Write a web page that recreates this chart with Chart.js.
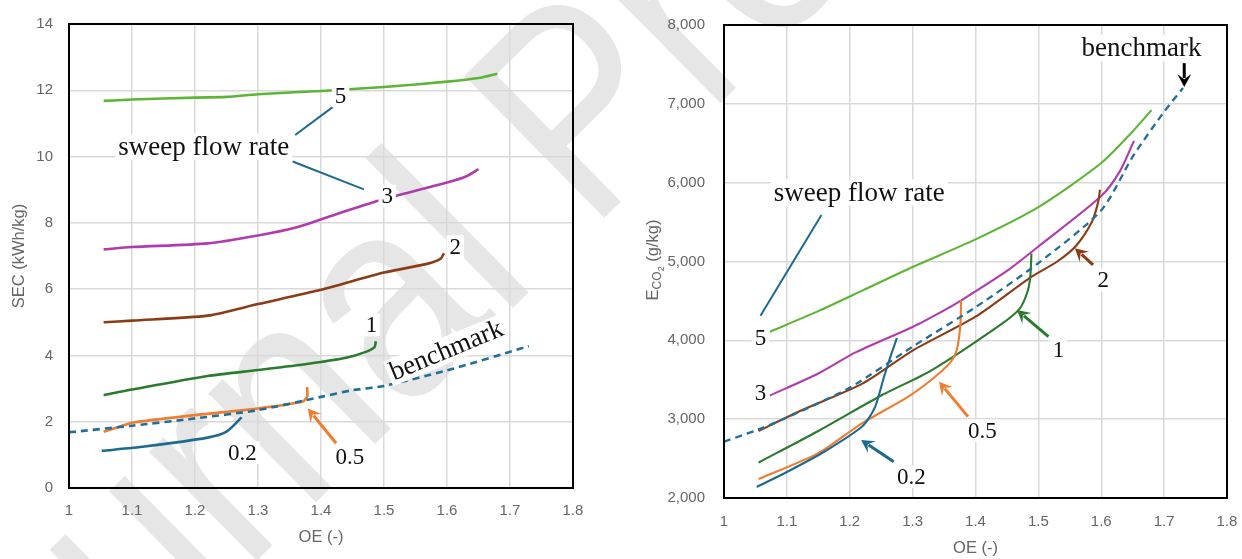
<!DOCTYPE html>
<html>
<head>
<meta charset="utf-8">
<script src="https://cdn.jsdelivr.net/npm/chart.js@4.4.1/dist/chart.umd.min.js"></script>
<style>
  html, body { margin: 0; padding: 0; background: #fff; }
  #wrap { position: relative; width: 1242px; height: 559px; overflow: hidden; }
  #wm { position: absolute; left: 0; top: 0; }
  #chart-1 { position: absolute; left: 0; top: 0; }
  #chart-2 { position: absolute; left: 620px; top: 0; }
</style>
</head>
<body>
<div id="wrap">
  <canvas id="wm" width="1242" height="559"></canvas>
  <canvas id="chart-1" width="620" height="559"></canvas>
  <canvas id="chart-2" width="622" height="559"></canvas>
</div>
<script>
// ---- left panel: SEC (kWh/kg) against OE (-), one line per sweep flow rate
const sec_oe_02 = [1.052, 1.12, 1.22, 1.25, 1.274];
const sec_02 = [1.12, 1.25, 1.52, 1.7, 2.13];
const sec_oe_05 = [1.055, 1.08, 1.1, 1.2, 1.3, 1.37, 1.378, 1.378];
const sec_05 = [1.7, 1.85, 1.97, 2.2, 2.4, 2.6, 2.75, 3.05];
const sec_oe_1 = [1.055, 1.1, 1.22, 1.3, 1.38, 1.44, 1.47, 1.485, 1.487];
const sec_1 = [2.8, 2.97, 3.38, 3.56, 3.75, 3.93, 4.1, 4.25, 4.43];
const sec_oe_2 = [1.055, 1.1, 1.22, 1.3, 1.4, 1.5, 1.57, 1.59, 1.595];
const sec_2 = [5.0, 5.05, 5.2, 5.55, 5.98, 6.5, 6.77, 6.92, 7.08];
const sec_oe_3 = [1.055, 1.1, 1.22, 1.3, 1.36, 1.43, 1.5, 1.6, 1.63, 1.65];
const sec_3 = [7.2, 7.27, 7.38, 7.62, 7.86, 8.3, 8.72, 9.22, 9.4, 9.62];
const sec_oe_5 = [1.055, 1.1, 1.2, 1.25, 1.3, 1.4, 1.5, 1.6, 1.65, 1.68];
const sec_5 = [11.68, 11.72, 11.78, 11.8, 11.88, 11.98, 12.1, 12.26, 12.37, 12.5];
const sec_oe_bm = [1.0, 1.1, 1.2, 1.3, 1.4, 1.45, 1.5, 1.6, 1.73];
const sec_bm = [1.68, 1.88, 2.1, 2.35, 2.75, 2.95, 3.08, 3.55, 4.28];

// ---- right panel: E_CO2 (g/kg) against OE (-)
const eco_oe_02 = [1.052, 1.1, 1.16, 1.22, 1.24, 1.255, 1.265, 1.275];
const eco_02 = [2140, 2330, 2590, 2910, 3150, 3550, 3800, 4030];
const eco_oe_05 = [1.055, 1.15, 1.22, 1.29, 1.33, 1.36, 1.37, 1.376, 1.377];
const eco_05 = [2240, 2570, 2950, 3270, 3500, 3720, 3870, 4200, 4510];
const eco_oe_1 = [1.055, 1.15, 1.25, 1.33, 1.44, 1.47, 1.482, 1.487, 1.489];
const eco_1 = [2450, 2850, 3300, 3620, 4200, 4400, 4600, 4800, 5100];
const eco_oe_2 = [1.055, 1.12, 1.22, 1.3, 1.4, 1.486, 1.53, 1.56, 1.585, 1.595, 1.598];
const eco_2 = [2850, 3100, 3450, 3870, 4300, 4790, 5000, 5200, 5500, 5750, 5910];
const eco_oe_3 = [1.073, 1.15, 1.21, 1.3, 1.35, 1.38, 1.45, 1.5, 1.6, 1.63, 1.652];
const eco_3 = [3300, 3580, 3850, 4170, 4380, 4520, 4880, 5190, 5830, 6150, 6530];
const eco_oe_5 = [1.073, 1.15, 1.22, 1.3, 1.4, 1.5, 1.6, 1.65, 1.68];
const eco_5 = [4110, 4370, 4630, 4930, 5280, 5690, 6250, 6650, 6920];
const eco_oe_bm = [1.0, 1.055, 1.1, 1.2, 1.3, 1.4, 1.5, 1.6, 1.65, 1.7, 1.73];
const eco_bm = [2715, 2870, 3020, 3400, 3920, 4420, 4980, 5650, 6330, 6900, 7200];

const c_02 = "#1c6b8f";
const c_05 = "#f07c30";
const c_1 = "#2a7b2e";
const c_2 = "#8c3c14";
const c_3 = "#b03bae";
const c_5 = "#5cb634";
const c_bm = "#1f6f99";

const pts = (xs, ys) => xs.map((x, i) => ({ x: x, y: ys[i] }));
const line = (xs, ys, color, width, dashed) => ({
  data: pts(xs, ys),
  borderColor: color,
  borderWidth: width,
  borderDash: dashed ? [7, 5] : [],
  pointRadius: 0,
  tension: 0.25,
  fill: false,
});

// watermark behind both panels: "n" and "P" are placed where they sit in the page
(function () {
  const ctx = document.getElementById("wm").getContext("2d");
  const sx = 0.86;
  ctx.font = "100px 'Liberation Sans'";
  const nAt = (ctx.measureText("Jour").width + ctx.measureText("n").width / 2) * sx;
  const pAt = (ctx.measureText("Journal ").width + ctx.measureText("P").width / 2) * sx;
  const n = [298, 410], p = [594, 118];
  const dist = Math.hypot(p[0] - n[0], p[1] - n[1]);
  const size = (100 * dist) / (pAt - nAt);
  const ang = Math.atan2(p[1] - n[1], p[0] - n[0]);
  ctx.font = size + "px 'Liberation Sans'";
  const nx = (nAt * size) / 100;
  const ny = -0.27 * size;
  const c = Math.cos(ang), s = Math.sin(ang);
  ctx.translate(n[0] - (c * nx - s * ny), n[1] - (s * nx + c * ny));
  ctx.rotate(ang);
  ctx.scale(sx, 1);
  ctx.fillStyle = "#e6e6e6";
  ctx.fillText("Journal Pre-proof", 0, 0);
})();

const notesPlugin = {
  id: "notes",
  afterDatasetsDraw(chart, args, opts) {
    const { ctx, chartArea: a } = chart;
    const xs = chart.scales.x, ys = chart.scales.y;
    const px = (v) => xs.getPixelForValue(v);
    const py = (v) => ys.getPixelForValue(v);
    ctx.save();
    ctx.strokeStyle = "#000";
    ctx.lineWidth = 2;
    ctx.strokeRect(a.left, a.top, a.right - a.left, a.bottom - a.top);
    (opts.lines || []).forEach((l) => {
      ctx.beginPath();
      ctx.strokeStyle = l.color;
      ctx.lineWidth = 2;
      ctx.moveTo(px(l.from[0]), py(l.from[1]));
      ctx.lineTo(px(l.to[0]), py(l.to[1]));
      ctx.stroke();
    });
    (opts.arrows || []).forEach((l) => {
      const x1 = px(l.from[0]), y1 = py(l.from[1]);
      const x2 = px(l.to[0]), y2 = py(l.to[1]);
      const ang = Math.atan2(y2 - y1, x2 - x1);
      const hl = 13, hw = 7;
      ctx.beginPath();
      ctx.strokeStyle = l.color;
      ctx.lineWidth = 3;
      ctx.moveTo(x1, y1);
      ctx.lineTo(x2 - Math.cos(ang) * hl * 0.7, y2 - Math.sin(ang) * hl * 0.7);
      ctx.stroke();
      ctx.beginPath();
      ctx.fillStyle = l.color;
      ctx.moveTo(x2, y2);
      ctx.lineTo(x2 - Math.cos(ang) * hl - Math.sin(ang) * hw, y2 - Math.sin(ang) * hl + Math.cos(ang) * hw);
      ctx.lineTo(x2 - Math.cos(ang) * hl * 0.6, y2 - Math.sin(ang) * hl * 0.6);
      ctx.lineTo(x2 - Math.cos(ang) * hl + Math.sin(ang) * hw, y2 - Math.sin(ang) * hl - Math.cos(ang) * hw);
      ctx.closePath();
      ctx.fill();
    });
    (opts.labels || []).forEach((l) => {
      ctx.save();
      ctx.translate(px(l.at[0]), py(l.at[1]));
      ctx.rotate(((l.rot || 0) * Math.PI) / 180);
      ctx.font = (l.size || 23) + "px 'Liberation Serif'";
      ctx.textAlign = "center";
      ctx.textBaseline = "middle";
      const w = ctx.measureText(l.text).width;
      const h = (l.size || 23) * 0.9;
      ctx.fillStyle = "#fff";
      ctx.fillRect(-w / 2 - 3, -h / 2 - 1, w + 6, h + 2);
      ctx.fillStyle = "#111";
      ctx.fillText(l.text, 0, 1);
      ctx.restore();
    });
    ctx.restore();
  },
  afterDraw(chart, args, opts) {
    if (!opts.ytitle) return;
    const ctx = chart.ctx;
    const parts = [
      ["E", 16.5, 0],
      ["CO", 12, 3],
      ["2", 9.5, 6],
      [" (g/kg)", 16.5, 0],
    ];
    ctx.save();
    ctx.fillStyle = "#666";
    ctx.textBaseline = "alphabetic";
    let total = 0;
    parts.forEach((p) => {
      ctx.font = p[1] + "px 'Liberation Sans'";
      total += ctx.measureText(p[0]).width;
    });
    ctx.translate(opts.ytitle.x, opts.ytitle.y);
    ctx.rotate(-Math.PI / 2);
    let x = -total / 2;
    parts.forEach((p) => {
      ctx.font = p[1] + "px 'Liberation Sans'";
      ctx.fillText(p[0], x, 6 + p[2]);
      x += ctx.measureText(p[0]).width;
    });
    ctx.restore();
  },
};

const tickFont = { family: "'Liberation Sans'", size: 15 };
const titleFont = { family: "'Liberation Sans'", size: 16.5 };
const gridOpt = { color: "#d9d9d9", lineWidth: 1.5, drawTicks: false };
// keep the plot box where the layout padding puts it
const noEdgeX = (h) => (s) => { s.height = h; s.paddingLeft = 0; s.paddingRight = 0; };
const noEdgeY = (w) => (s) => { s.width = w; s.paddingTop = 0; s.paddingBottom = 0; };

new Chart(document.getElementById("chart-1"), {
  type: "line",
  data: {
    datasets: [
      line(sec_oe_bm, sec_bm, c_bm, 2.6, true),
      line(sec_oe_02, sec_02, c_02, 2.6),
      line(sec_oe_05, sec_05, c_05, 2.6),
      line(sec_oe_1, sec_1, c_1, 2.6),
      line(sec_oe_2, sec_2, c_2, 2.6),
      line(sec_oe_3, sec_3, c_3, 2.6),
      line(sec_oe_5, sec_5, c_5, 2.6),
    ],
  },
  options: {
    responsive: false,
    animation: false,
    layout: { padding: { top: 24, right: 47, left: 0, bottom: 0 } },
    scales: {
      x: {
        type: "linear",
        min: 1,
        max: 1.8,
        ticks: { stepSize: 0.1, color: "#666", font: tickFont, padding: 14, callback: (v) => Number(v.toFixed(1)).toString() },
        grid: gridOpt,
        border: { display: false },
        title: { display: true, text: "OE (-)", color: "#666", font: titleFont, padding: { top: 0, bottom: 12 } },
        afterFit: noEdgeX(71),
      },
      y: {
        min: 0,
        max: 14,
        ticks: { stepSize: 2, color: "#666", font: tickFont, padding: 16 },
        grid: gridOpt,
        border: { display: false },
        title: { display: true, text: "SEC (kWh/kg)", color: "#666", font: titleFont, padding: { top: 10, bottom: 0 } },
        afterFit: noEdgeY(69),
      },
    },
    plugins: {
      legend: { display: false },
      tooltip: { enabled: false },
      notes: {
        lines: [
          { from: [1.359, 10.65], to: [1.419, 11.5], color: c_02 },
          { from: [1.355, 9.85], to: [1.468, 9.01], color: c_02 },
        ],
        arrows: [{ from: [1.424, 1.35], to: [1.379, 2.4], color: c_05 }],
        labels: [
          { text: "sweep flow rate", at: [1.214, 10.29], size: 27 },
          { text: "5", at: [1.431, 11.83] },
          { text: "3", at: [1.505, 8.81] },
          { text: "2", at: [1.613, 7.28] },
          { text: "1", at: [1.48, 4.92] },
          { text: "benchmark", at: [1.599, 4.16], size: 27, rot: -22.5 },
          { text: "0.2", at: [1.275, 1.07] },
          { text: "0.5", at: [1.446, 0.94] },
        ],
      },
    },
  },
  plugins: [notesPlugin],
});

new Chart(document.getElementById("chart-2"), {
  type: "line",
  data: {
    datasets: [
      line(eco_oe_bm, eco_bm, c_bm, 2.3, true),
      line(eco_oe_02, eco_02, c_02, 2.1),
      line(eco_oe_05, eco_05, c_05, 2.1),
      line(eco_oe_1, eco_1, c_1, 2.1),
      line(eco_oe_2, eco_2, c_2, 2.1),
      line(eco_oe_3, eco_3, c_3, 2.1),
      line(eco_oe_5, eco_5, c_5, 2.1),
    ],
  },
  options: {
    responsive: false,
    animation: false,
    layout: { padding: { top: 25, right: 15, left: 0, bottom: 0 } },
    scales: {
      x: {
        type: "linear",
        min: 1,
        max: 1.8,
        ticks: { stepSize: 0.1, color: "#666", font: tickFont, padding: 15, callback: (v) => Number(v.toFixed(1)).toString() },
        grid: gridOpt,
        border: { display: false },
        title: { display: true, text: "OE (-)", color: "#666", font: titleFont, padding: { top: 0, bottom: 1 } },
        afterFit: noEdgeX(61),
      },
      y: {
        min: 2000,
        max: 8000,
        ticks: { stepSize: 1000, color: "#666", font: tickFont, padding: 19, callback: (v) => v.toLocaleString("en-US") },
        grid: gridOpt,
        border: { display: false },
        afterFit: noEdgeY(104),
      },
    },
    plugins: {
      legend: { display: false },
      tooltip: { enabled: false },
      notes: {
        ytitle: { x: 32, y: 260 },
        lines: [{ from: [1.155, 5591], to: [1.058, 4313], color: c_02 }],
        arrows: [
          { from: [1.732, 7516], to: [1.732, 7212], color: "#000" },
          { from: [1.587, 4957], to: [1.558, 5169], color: c_2 },
          { from: [1.516, 4047], to: [1.466, 4386], color: c_1 },
          { from: [1.388, 3032], to: [1.342, 3476], color: c_05 },
          { from: [1.27, 2461], to: [1.218, 2736], color: c_02 },
        ],
        labels: [
          { text: "benchmark", at: [1.664, 7707], size: 27 },
          { text: "sweep flow rate", at: [1.215, 5874], size: 27 },
          { text: "5", at: [1.058, 4027] },
          { text: "3", at: [1.058, 3329] },
          { text: "2", at: [1.603, 4766] },
          { text: "1", at: [1.532, 3878] },
          { text: "0.5", at: [1.411, 2854] },
          { text: "0.2", at: [1.298, 2270] },
        ],
      },
    },
  },
  plugins: [notesPlugin],
});
</script>
</body>
</html>
